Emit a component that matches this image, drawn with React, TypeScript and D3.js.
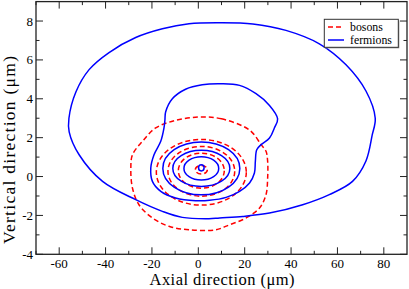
import * as d3 from 'd3';

// axis ticks
const X_MAJOR = [-60, -40, -20, 0, 20, 40, 60, 80];
const X_MINOR = [-70, -50, -30, -10, 10, 30, 50, 70];
const Y_MAJOR = [-4, -2, 0, 2, 4, 6, 8];
const Y_MINOR = [-3, -1, 1, 3, 5, 7];

// outer fermion contour, [axial, vertical]
const FERMION_OUTER: [number, number][] = [
  [-55.8, 3.0], [-52.8, 4.35], [-47.1, 5.5], [-38.5, 6.38], [-27.0, 7.15], [-15.5, 7.6],
  [-4.0, 7.86], [9.2, 7.91], [23.5, 7.85], [37.8, 7.52], [52.2, 6.83], [63.7, 5.75],
  [72.3, 4.4], [76.3, 3.0], [75.0, 2.14], [72.3, 0.8], [66.5, -0.25], [56.5, -0.93],
  [45.0, -1.45], [30.7, -1.88], [19.2, -2.05], [9.2, -2.13], [4.6, -2.17], [-6.9, -2.1],
  [-15.5, -1.79], [-27.0, -1.19], [-41.3, -0.25], [-51.4, 1.12], [-55.7, 2.3],
];

// second fermion contour (the hook)
const FERMION_HOOK: [number, number][] = [
  [1.7, 4.72], [9.6, 4.77], [17.8, 4.69], [24.9, 4.26], [30.7, 3.66], [34.2, 2.97],
  [32.8, 2.5], [30.7, 1.98], [27.1, 1.64], [25.2, 1.38], [24.6, 0.78], [24.2, 0.18],
  [22.1, -0.33], [17.8, -0.76], [12.0, -1.07], [4.9, -1.22], [-1.2, -1.24], [-9.8, -1.1],
  [-16.2, -0.76], [-19.8, -0.25], [-20.5, 0.44], [-19.1, 1.12], [-16.2, 1.81], [-14.8, 2.5],
  [-14.4, 2.91], [-14.1, 3.32], [-11.2, 4.0], [-5.5, 4.49],
];

// outer boson contour
const BOSON_OUTER: [number, number][] = [
  [0.25, 3.06], [10.0, 2.97], [22.1, 2.39], [27.1, 1.64], [29.2, 1.3], [29.9, 0.78],
  [29.9, -0.08], [29.2, -0.93], [26.4, -1.62], [20.6, -2.13], [13.5, -2.48], [7.4, -2.74],
  [-4.0, -2.74], [-12.7, -2.56], [-19.8, -2.13], [-25.6, -1.45], [-28.4, -0.59], [-29.1, 0.44],
  [-28.4, 1.12], [-24.1, 1.81], [-18.4, 2.5], [-9.8, 2.89],
];

// inner near-elliptic rings: [cx, cy, rx, ry]
const FERMION_RINGS: [number, number, number, number][] = [
  [1.3, 0.42, 16.6, 1.36],
  [1.3, 0.42, 12.3, 0.93],
  [1.3, 0.42, 7.5, 0.6],
  [1.3, 0.45, 1.2, 0.16],
];
const BOSON_RINGS: [number, number, number, number][] = [
  [1.3, 0.22, 19.4, 1.69],
  [1.3, 0.27, 14.4, 1.28],
  [1.3, 0.3, 9.9, 0.9],
  [1.3, 0.35, 2.6, 0.22],
];

const BLUE = '#0000ff';
const RED = '#ff0000';
const FONT = '"Liberation Serif", "DejaVu Serif", serif';

export default function App() {
  const W = 409, H = 289;
  const L = 36, R = 407, T = 1.6, B = 254.3;
  const x = d3.scaleLinear().domain([-70, 90]).range([L, R]);
  const y = d3.scaleLinear().domain([-4, 9]).range([B, T]);

  const closed = d3.line<[number, number]>()
    .x((d) => x(d[0]))
    .y((d) => y(d[1]))
    .curve(d3.curveCatmullRomClosed.alpha(0.5));

  const ring = (r: [number, number, number, number], color: string, dashed: boolean, k: number) => (
    <ellipse
      key={color + k}
      cx={x(r[0])}
      cy={y(r[1])}
      rx={x(r[0] + r[2]) - x(r[0])}
      ry={y(r[1]) - y(r[1] + r[3])}
      fill="none"
      stroke={color}
      strokeWidth={1.5}
      strokeDasharray={dashed ? '5,3' : undefined}
    />
  );

  return (
    <svg width={W} height={H} style={{ position: 'absolute', left: 0, top: 0, background: '#fff' }} fontFamily={FONT}>
      <defs>
        <clipPath id="plot">
          <rect x={L} y={T} width={R - L} height={B - T} />
        </clipPath>
      </defs>

      <g clipPath="url(#plot)">
        <path d={closed(BOSON_OUTER) ?? ''} fill="none" stroke={RED} strokeWidth={1.5} strokeDasharray="5,3" />
        {BOSON_RINGS.map((r, i) => ring(r, RED, true, i))}
        <path d={closed(FERMION_OUTER) ?? ''} fill="none" stroke={BLUE} strokeWidth={1.5} />
        <path d={closed(FERMION_HOOK) ?? ''} fill="none" stroke={BLUE} strokeWidth={1.5} />
        {FERMION_RINGS.map((r, i) => ring(r, BLUE, false, i))}
      </g>

      {/* frame */}
      <rect x={L} y={T} width={R - L} height={B - T} fill="none" stroke="#222" strokeWidth={1.3} />

      {/* ticks, mirrored on all four sides, pointing inward */}
      {X_MAJOR.map((v) => (
        <g key={'xM' + v}>
          <line x1={x(v)} x2={x(v)} y1={B} y2={B - 7} stroke="#222" />
          <line x1={x(v)} x2={x(v)} y1={T} y2={T + 7} stroke="#222" />
          <text x={x(v)} y={267.5} textAnchor="middle" fontSize={13}>{v}</text>
        </g>
      ))}
      {X_MINOR.map((v) => (
        <g key={'xm' + v}>
          <line x1={x(v)} x2={x(v)} y1={B} y2={B - 3.5} stroke="#222" />
          <line x1={x(v)} x2={x(v)} y1={T} y2={T + 3.5} stroke="#222" />
        </g>
      ))}
      {Y_MAJOR.map((v) => (
        <g key={'yM' + v}>
          <line x1={L} x2={L + 7} y1={y(v)} y2={y(v)} stroke="#222" />
          <line x1={R} x2={R - 7} y1={y(v)} y2={y(v)} stroke="#222" />
          <text x={33} y={y(v) + 4.5} textAnchor="end" fontSize={13}>{v}</text>
        </g>
      ))}
      {Y_MINOR.map((v) => (
        <g key={'ym' + v}>
          <line x1={L} x2={L + 3.5} y1={y(v)} y2={y(v)} stroke="#222" />
          <line x1={R} x2={R - 3.5} y1={y(v)} y2={y(v)} stroke="#222" />
        </g>
      ))}

      {/* axis titles */}
      <text x={222} y={285} textAnchor="middle" fontSize={16.5} textLength={145} lengthAdjust="spacing">Axial direction (μm)</text>
      <text transform="translate(15,150) rotate(-90)" textAnchor="middle" fontSize={17.5} textLength={188} lengthAdjust="spacing">Vertical direction (μm)</text>

      {/* legend */}
      <rect x={325.3} y={20.3} width={74} height={28} fill="#888" />
      <rect x={324.3} y={19.3} width={74} height={28} fill="#fff" stroke="#333" strokeWidth={1} />
      <line x1={328} x2={344} y1={27} y2={27} stroke={RED} strokeWidth={1.5} strokeDasharray="5,3" />
      <text x={350} y={31} fontSize={11.8}>bosons</text>
      <line x1={328} x2={344} y1={40} y2={40} stroke={BLUE} strokeWidth={1.5} />
      <text x={350} y={44.3} fontSize={11.8}>fermions</text>
    </svg>
  );
}
